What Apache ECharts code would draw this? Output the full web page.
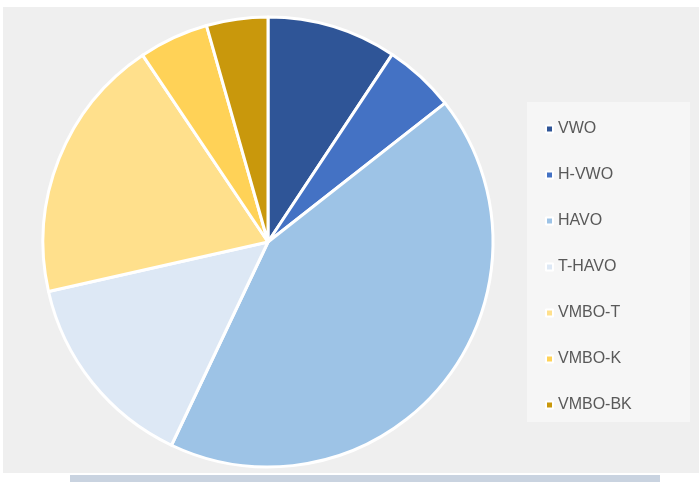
<!DOCTYPE html>
<html>
<head>
<meta charset="utf-8">
<script src="https://cdn.jsdelivr.net/npm/echarts@6/dist/echarts.min.js"></script>
<style>html,body{margin:0;padding:0;background:#fff;}#c{width:699px;height:482px;}</style>
</head>
<body>
<div id="c"></div>
<script>
const categories = ['VWO', 'H-VWO', 'HAVO', 'T-HAVO', 'VMBO-T', 'VMBO-K', 'VMBO-BK'];
const values = [9.3, 5.1, 42.6, 14.4, 19.1, 5.0, 4.4];
const colors = ['#2f5597', '#4472c4', '#9dc3e6', '#dde8f5', '#ffe08c', '#ffd257', '#c9980c'];

const chart = echarts.init(document.getElementById('c'));
chart.setOption({
  backgroundColor: '#ffffff',
  animation: false,
  graphic: [
    { type: 'rect', shape: { x: 3, y: 7, width: 696, height: 466 }, style: { fill: '#efefef' }, z: -10 },
    { type: 'rect', shape: { x: 527, y: 102, width: 163, height: 320 }, style: { fill: '#f6f6f6' }, z: -9 },
    { type: 'rect', shape: { x: 70, y: 475, width: 590, height: 7 }, style: { fill: '#c9d3e0' }, z: -9 }
  ],
  legend: {
    orient: 'vertical',
    left: 540,
    top: 116,
    itemGap: 30,
    itemWidth: 7,
    itemHeight: 7,
    icon: 'rect',
    data: categories,
    textStyle: { color: '#595959', fontSize: 16, fontFamily: 'Liberation Sans, Arial, sans-serif' }
  },
  series: [{
    type: 'pie',
    center: [268, 242],
    radius: 225,
    startAngle: 90,
    clockwise: true,
    label: { show: false },
    labelLine: { show: false },
    itemStyle: { borderColor: '#ffffff', borderWidth: 3 },
    data: categories.map((n, i) => ({ name: n, value: values[i], itemStyle: { color: colors[i] } }))
  }]
});
</script>
</body>
</html>
